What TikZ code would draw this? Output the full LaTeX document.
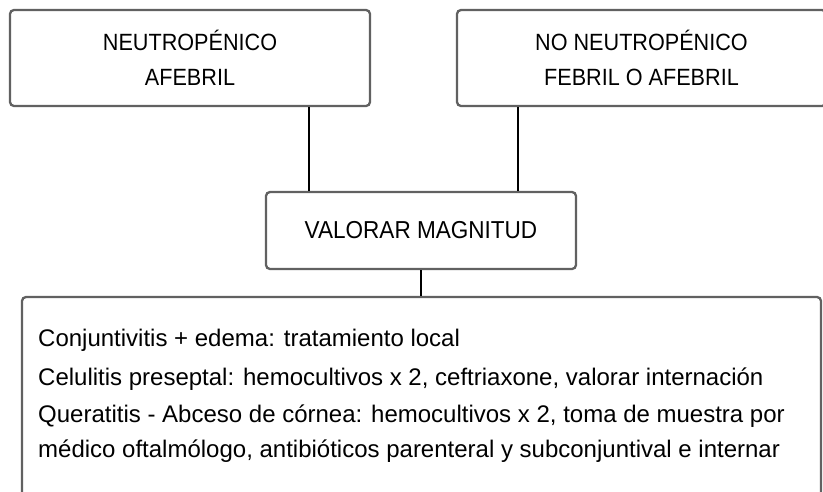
\documentclass[tikz,border=0pt]{standalone}
\usepackage{fontspec}
\setmainfont[FakeStretch=0.92]{Liberation Sans}
\newfontfamily\bodyfont[FakeStretch=1.0]{Liberation Sans}
\begin{document}
\begin{tikzpicture}[x=1pt,y=-1pt,
  box/.style={draw=black!62,line width=2.3pt,rounded corners=4pt,inner sep=0pt,align=center},
  conn/.style={draw=black,line width=2pt},
  head/.style={font=\fontsize{23.5}{35}\selectfont},
  body/.style={font=\bodyfont\fontsize{24}{27}\selectfont,anchor=base west,inner sep=0pt}]
\useasboundingbox (0,0) rectangle (823,491);
\clip (0,0) rectangle (823,491);
\node[box,head,minimum width=360pt,minimum height=96pt] (A) at (190,58) {NEUTROPÉNICO\\AFEBRIL};
\node[box,head,minimum width=369pt,minimum height=96pt] (B) at (641.5,58) {NO NEUTROPÉNICO\\FEBRIL O AFEBRIL};
\node[box,font=\fontsize{24.5}{30}\selectfont,minimum width=310pt,minimum height=77pt] (M) at (421,230.5) {VALORAR MAGNITUD};
\node[box,minimum width=799pt,minimum height=250pt] (D) at (421.5,422) {};
\coordinate (c1) at (309,0);
\coordinate (c2) at (518,0);
\draw[conn] (A.south -| c1) -- (M.north -| c1);
\draw[conn] (B.south -| c2) -- (M.north -| c2);
\draw[conn] (M.south) -- (M.south |- D.north);
\node[body] (t1) at (38,346) {Conjuntivitis + edema: tratamiento local};
\node[body] (t2) at (38,385) {Celulitis preseptal: hemocultivos x 2, ceftriaxone, valorar internación};
\node[body] (t3) at (38,422) {Queratitis - Abceso de córnea: hemocultivos x 2, toma de muestra por};
\node[body] (t4) at (38,457) {médico oftalmólogo, antibióticos parenteral y subconjuntival e internar};
\end{tikzpicture}
\end{document}
